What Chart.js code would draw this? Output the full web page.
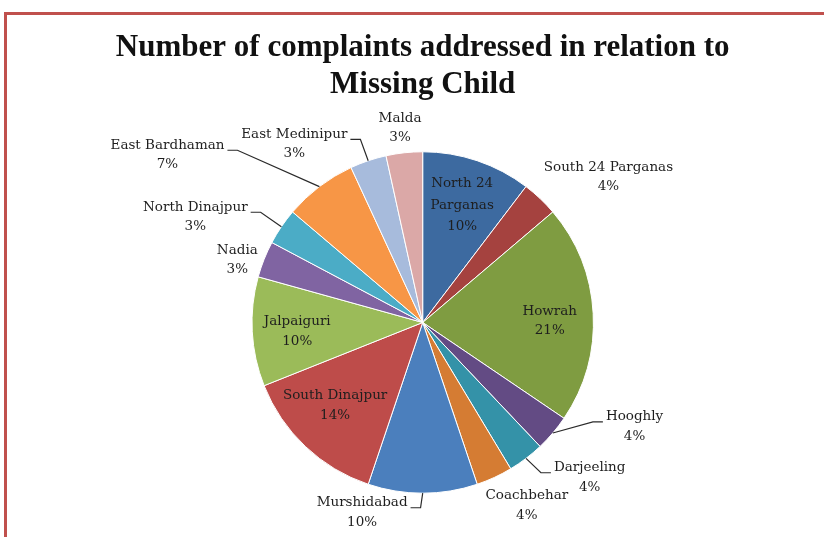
<!DOCTYPE html>
<html>
<head>
<meta charset="utf-8">
<script src="https://cdn.jsdelivr.net/npm/chart.js@4"></script>
<style>
  html, body { margin: 0; padding: 0; background: #fff; }
  #wrap { position: relative; width: 824px; height: 537px; overflow: hidden; }
  #frame { position: absolute; left: 4px; top: 12px; width: 900px; height: 600px;
           border-left: 3px solid #c0504d; border-top: 3px solid #c0504d; }
  canvas { position: absolute; left: 0; top: 0; }
</style>
</head>
<body>
<div id="wrap">
  <div id="frame"></div>
  <canvas id="myChart" width="824" height="537"></canvas>
</div>
<script>
// districts, clockwise from 12 o'clock
var districts = ['North 24 Parganas', 'South 24 Parganas', 'Howrah', 'Hooghly', 'Darjeeling',
    'Coachbehar', 'Murshidabad', 'South Dinajpur', 'Jalpaiguri', 'Nadia', 'North Dinajpur',
    'East Bardhaman', 'East Medinipur', 'Malda'];
// number of complaints addressed
var complaints = [3, 1, 6, 1, 1, 1, 3, 4, 3, 1, 1, 2, 1, 1];
// percentages as printed on the chart
var pctLabels = ['10%', '4%', '21%', '4%', '4%', '4%', '10%', '14%', '10%', '3%', '3%', '7%', '3%', '3%'];

var sliceColors = ['#3d6aa0', '#a5423f', '#7f9c41', '#634b84', '#3492a8', '#d57c33', '#4b7fbd',
    '#be4c4a', '#9bbb59', '#8064a2', '#4bacc6', '#f79646', '#a7bbdc', '#dba8a7'];

// label placement, in units of the pie radius from the centre; leader = side the line leaves from
var labelSpots = [
    { ux: 0.231, uy: -0.688, lines: ['North 24', 'Parganas'], gap: 21.5 },
    { ux: 1.088, uy: -0.851 },
    { ux: 0.744, uy: -0.010 },
    { ux: 1.241, uy: 0.610, leader: 'left' },
    { ux: 0.978, uy: 0.908, leader: 'left' },
    { ux: 0.610, uy: 1.072 },
    { ux: -0.355, uy: 1.113, leader: 'right' },
    { ux: -0.513, uy: 0.487 },
    { ux: -0.735, uy: 0.054 },
    { ux: -1.086, uy: -0.367 },
    { ux: -1.332, uy: -0.618, leader: 'right' },
    { ux: -1.495, uy: -0.981, leader: 'right' },
    { ux: -0.752, uy: -1.045, leader: 'right' },
    { ux: -0.133, uy: -1.139 }
];

var labelFont = '13.5px "DejaVu Serif"';

var sliceLabels = {
    id: 'sliceLabels',
    afterDatasetsDraw: function(chart) {
        var ctx = chart.ctx;
        var arcs = chart.getDatasetMeta(0).data;
        ctx.save();
        ctx.font = labelFont;
        ctx.fillStyle = '#1e1e1e';
        ctx.strokeStyle = '#2a2a2a';
        ctx.lineWidth = 1.2;
        ctx.textAlign = 'center';
        ctx.textBaseline = 'middle';
        arcs.forEach(function(arc, i) {
            var p = arc.getProps(['x', 'y', 'startAngle', 'endAngle', 'outerRadius'], true);
            var spot = labelSpots[i];
            var R = p.outerRadius;
            var lines = (spot.lines || [districts[i]]).concat([pctLabels[i]]);
            var gap = spot.gap || 19.5;
            var cx = p.x + spot.ux * R;
            var top = p.y + spot.uy * R - (lines.length - 1) * gap / 2;
            lines.forEach(function(t, k) {
                ctx.fillText(t, cx, top + k * gap);
            });
            if (spot.leader) {
                var mid = (p.startAngle + p.endAngle) / 2;
                var ex = p.x + Math.cos(mid) * R;
                var ey = p.y + Math.sin(mid) * R;
                var w = ctx.measureText(lines[0]).width;
                var ly = top + 5;
                var sx, hx;
                if (spot.leader === 'left') {
                    sx = cx - w / 2 - 3; hx = sx - 10;
                } else {
                    sx = cx + w / 2 + 3; hx = sx + 10;
                }
                ctx.beginPath();
                ctx.moveTo(sx, ly);
                ctx.lineTo(hx, ly);
                ctx.lineTo(ex, ey);
                ctx.stroke();
            }
        });
        ctx.restore();
    }
};

document.addEventListener("DOMContentLoaded", () => {
    var ctx = document.getElementById('myChart').getContext('2d');
    var chart = new Chart(ctx, {
        type: 'pie',
        data: {
            labels: districts,
            datasets: [{
                data: complaints,
                backgroundColor: sliceColors,
                borderColor: '#ffffff',
                borderWidth: 1
            }]
        },
        options: {
            responsive: false,
            devicePixelRatio: 1,
            animation: false,
            layout: {
                padding: { left: 21.4, right: 0, top: 0, bottom: 43.3 }
            },
            plugins: {
                legend: { display: false },
                tooltip: { enabled: false },
                title: {
                    display: true,
                    text: ['Number of complaints addressed in relation to', 'Missing Child'],
                    color: '#111',
                    font: { family: '"Liberation Serif"', size: 31, weight: 'bold', lineHeight: 1.19 },
                    padding: { top: 30, bottom: 47.5 }
                }
            }
        },
        plugins: [sliceLabels]
    });
});
</script>
</body>
</html>
